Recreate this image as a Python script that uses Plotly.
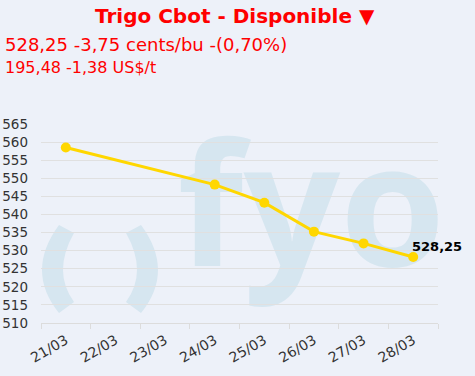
import plotly.graph_objects as go

# ---- data ----
categories = ["21/03", "22/03", "23/03", "24/03", "25/03", "26/03", "27/03", "28/03"]
dates = ["21/03", "24/03", "25/03", "26/03", "27/03", "28/03"]
prices = [558.5, 548.25, 543.25, 535.25, 532.0, 528.25]
last_label = "528,25"
title_text = "Trigo Cbot - Disponible ▼"
line2_text = "528,25 -3,75 cents/bu -(0,70%)"
line3_text = "195,48 -1,38 US$/t"
y_ticks = list(range(510, 566, 5))

W, H = 475, 376
ML, MR, MT, MB = 41, 37, 124, 53
PW, PH = W - ML - MR, H - MT - MB


def px(x):
    return (x - ML) / PW


def py(y):
    return (H - MB - y) / PH


BG = "#EDF1F9"
WM = "#D6E6F0"
RED = "#FF0000"
FONT = "DejaVu Sans"

fig = go.Figure()
fig.add_trace(go.Scatter(
    x=dates, y=prices, mode="lines+markers",
    line=dict(color="#FFD700", width=3),
    marker=dict(color="#FFD700", size=10),
    hoverinfo="skip", showlegend=False,
))

lp = (f"M {px(59)},{py(225)} Q {px(25)},{py(271)} {px(59)},{py(313)} "
      f"L {px(74)},{py(302)} Q {px(52)},{py(272)} {px(74)},{py(233)} Z")
rp = (f"M {px(141)},{py(225)} Q {px(175)},{py(271)} {px(141)},{py(313)} "
      f"L {px(126)},{py(302)} Q {px(148)},{py(272)} {px(126)},{py(233)} Z")
shapes = [
    dict(type="path", path=lp, xref="paper", yref="paper", fillcolor=WM,
         line=dict(width=0), layer="below"),
    dict(type="path", path=rp, xref="paper", yref="paper", fillcolor=WM,
         line=dict(width=0), layer="below"),
    dict(type="rect", xref="paper", yref="paper",
         x0=px(185), x1=px(438), y0=py(313), y1=py(111),
         line=dict(width=0), fillcolor="rgba(0,0,0,0)", layer="below",
         label=dict(text="fyo", font=dict(family="Open Sans", size=170, color=WM,
                                          weight=700),
                    textposition="middle center")),
]

annotations = [
    dict(text=f"<b>{title_text}</b>", x=px(235), y=py(16), xref="paper", yref="paper",
         xanchor="center", yanchor="middle", showarrow=False,
         font=dict(family=FONT, size=20, color=RED)),
    dict(text=line2_text, x=px(3), y=py(44), xref="paper", yref="paper",
         xanchor="left", yanchor="middle", showarrow=False,
         font=dict(family=FONT, size=18, color=RED)),
    dict(text=line3_text, x=px(3), y=py(68), xref="paper", yref="paper",
         xanchor="left", yanchor="middle", showarrow=False,
         font=dict(family=FONT, size=16, color=RED)),
    dict(text=f"<b>{last_label}</b>", x=dates[-1], y=prices[-1], xref="x", yref="y",
         xanchor="left", yanchor="bottom", showarrow=False, xshift=-3, yshift=1,
         font=dict(family=FONT, size=13, color="#000000")),
]

fig.update_layout(
    width=W, height=H,
    margin=dict(l=ML, r=MR, t=MT, b=MB, pad=0, autoexpand=False),
    paper_bgcolor=BG, plot_bgcolor=BG,
    shapes=shapes, annotations=annotations,
    font=dict(family=FONT, size=13, color="#333333"),
    xaxis=dict(type="category", categoryorder="array", categoryarray=categories,
               range=[-0.5, 7.5], showgrid=False, showline=True, linecolor="#DCDCDC",
               linewidth=1, ticks="outside", tickson="boundaries", ticklen=5,
               tickcolor="#DCDCDC", tickangle=-30, zeroline=False, automargin=False,
               ticklabelstandoff=3,
               tickfont=dict(family=FONT, size=14, color="#333333")),
    yaxis=dict(range=[510, 565], tickvals=y_ticks, showgrid=True, gridcolor="#E0E0E0",
               gridwidth=1, zeroline=False, showline=False, ticks="",
               ticklabelstandoff=12, automargin=False,
               tickfont=dict(family=FONT, size=13.5, color="#333333")),
)

fig.write_html("out.html")
